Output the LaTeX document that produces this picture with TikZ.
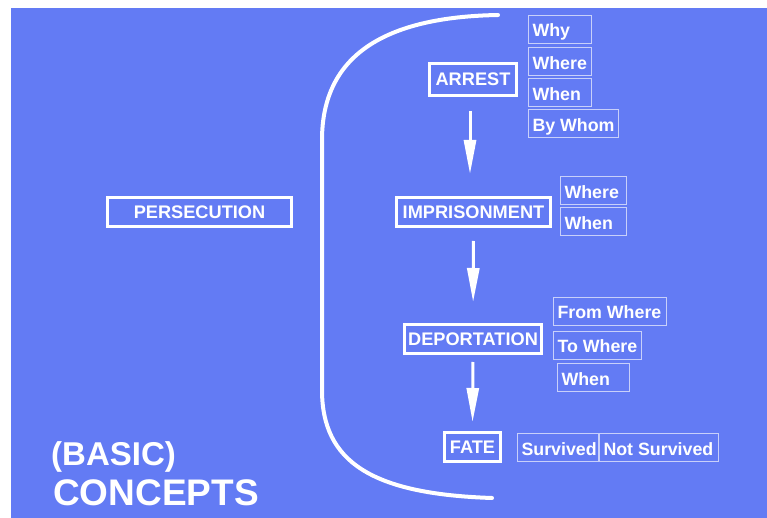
\documentclass[tikz,border=0pt]{standalone}
\usepackage{fontspec}
\setmainfont{Liberation Sans}
\usetikzlibrary{arrows.meta}
\definecolor{bgblue}{RGB}{99,123,244}
\definecolor{thinline}{RGB}{200,208,250}
\newcommand{\qlabel}[2]{\makebox[#1][l]{#2}}
\tikzset{
  mainbox/.style={draw=white, line width=3pt, text=white, inner sep=0pt,
    font=\fontsize{18.2}{21}\selectfont\bfseries, text height=13pt, text depth=0pt},
  qbox/.style={draw=thinline, line width=1pt, text=white, anchor=west, inner xsep=4pt, inner ysep=0pt,
    minimum height=28pt, text height=15pt, text depth=0pt,
    font=\fontsize{17.8}{21}\selectfont\bfseries},
  flow/.style={draw=white, line width=3pt, -{Triangle[length=34pt, width=12pt]}},
  bracket/.style={draw=white, line width=4pt, line cap=round},
  title/.style={text=white, anchor=base west, inner sep=0pt}
}
\begin{document}
\begin{tikzpicture}[x=1pt, y=-1pt]
  % canvas and backdrop
  \useasboundingbox (0,0) rectangle (767,518);
  \fill[white] (0,0) rectangle (767,518);
  \fill[bgblue] (11,8) rectangle (767,518);

  % left concept
  \node[mainbox, minimum width=184pt, minimum height=29pt] (persecution) at (199.5,212) {PERSECUTION};

  % large curved bracket
  \draw[bracket] (498,15) .. controls (385,17) and (322,55) .. (322,140)
    -- (322,390) .. controls (322,462) and (372,494) .. (492,498);

  % the chain of stages
  \node[mainbox, minimum width=87pt, minimum height=32pt] (arrest) at (473,79.5) {ARREST};
  \node[mainbox, minimum width=154pt, minimum height=29pt] (imprisonment) at (473.5,212) {IMPRISONMENT};
  \node[mainbox, minimum width=137pt, minimum height=29pt] (deportation) at (473,339) {DEPORTATION};
  \node[mainbox, minimum width=56pt, minimum height=29pt] (fate) at (472.5,447) {FATE};

  \draw[flow, shorten <=14pt, shorten >=22pt] ([xshift=-3pt]arrest.south) -- ([xshift=-3.5pt]imprisonment.north);
  \draw[flow, shorten <=13pt, shorten >=21pt] (imprisonment.south) -- (deportation.north);
  \draw[flow, shorten <=7pt, shorten >=9pt] (deportation.south) -- (fate.north);

  % questions for each stage
  \node[qbox] (a1) at (528,29.5) {\qlabel{55pt}{Why}};
  \node[qbox] (a2) at (528,62) {\qlabel{55pt}{Where}};
  \node[qbox] (a3) at (528,93) {\qlabel{55pt}{When}};
  \node[qbox] (a4) at (528,124) {\qlabel{82pt}{By Whom}};

  \node[qbox] (i1) at (560,191) {\qlabel{58pt}{Where}};
  \node[qbox] (i2) at (560,222) {\qlabel{58pt}{When}};

  \node[qbox] (d1) at (553,311) {\qlabel{105pt}{From Where}};
  \node[qbox] (d2) at (553,345) {\qlabel{80pt}{To Where}};
  \node[qbox] (d3) at (557,377.5) {\qlabel{64pt}{When}};

  \node[qbox] (f1) at (517,447.5) {\qlabel{73pt}{Survived}};
  \node[qbox] (f2) at (f1.east) {\qlabel{111pt}{Not Survived}};

  % heading
  \node[title, font=\fontsize{33}{36}\selectfont\bfseries] (basic) at (51,465) {(BASIC)};
  \node[title, font=\fontsize{37}{40}\selectfont\bfseries] (concepts) at (53,505) {CONCEPTS};
\end{tikzpicture}
\end{document}
